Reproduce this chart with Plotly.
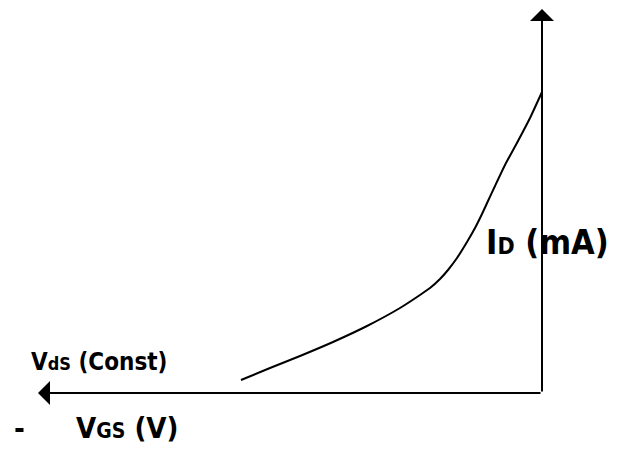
import plotly.graph_objects as go

# Transfer characteristic (V_GS negative, I_D in mA) – arbitrary units
vgs = [-6.02, -5.44, -4.84, -4.18, -3.50, -2.84, -2.44, -2.24, -2.04, -1.88,
       -1.70, -1.50, -1.34, -1.20, -1.08, -0.94, -0.74, -0.48, -0.24, 0.0]
id_ma = [0.26, 0.50, 0.74, 1.02, 1.34, 1.70, 1.96, 2.10, 2.28, 2.46,
         2.70, 3.02, 3.30, 3.58, 3.84, 4.14, 4.56, 5.04, 5.50, 6.02]

# axis extents (arrow tips)
x_axis_end = [-10.08, 0]
y_axis_end = [0, 7.68]

FONT = "DejaVu Sans Condensed, DejaVu Sans, sans-serif"

fig = go.Figure()
fig.add_trace(go.Scatter(x=vgs, y=id_ma, mode="lines",
                         line=dict(color="black", width=2, shape="spline", smoothing=0.5),
                         hoverinfo="skip"))

# axes with arrows
fig.add_annotation(x=x_axis_end[0], y=x_axis_end[1], ax=0, ay=0,
                   xref="x", yref="y", axref="x", ayref="y",
                   showarrow=True, arrowhead=1, arrowsize=2, arrowwidth=2,
                   arrowcolor="black", text="", standoff=0)
fig.add_annotation(x=y_axis_end[0], y=y_axis_end[1], ax=0, ay=0,
                   xref="x", yref="y", axref="x", ayref="y",
                   showarrow=True, arrowhead=1, arrowsize=2, arrowwidth=2,
                   arrowcolor="black", text="", standoff=0)

labels = [
    dict(text="<b>I<span style='font-size:23px'>D</span> (mA)</b>", x=-1.16, y=3.03, size=34),
    dict(text="<b>V<span style='font-size:18px'>dS</span> (Const)</b>", x=-10.26, y=0.62, size=24),
    dict(text="<b>V<span style='font-size:21px'>GS</span> (V)</b>", x=-9.36, y=-0.69, size=29),
    dict(text="<b>-</b>", x=-10.6, y=-0.7, size=29),
]
for lb in labels:
    fig.add_annotation(x=lb["x"], y=lb["y"], xref="x", yref="y", text=lb["text"],
                       showarrow=False, xanchor="left", yanchor="middle",
                       font=dict(family=FONT, size=lb["size"], color="black"))

fig.update_layout(
    width=621, height=449,
    margin=dict(l=0, r=0, t=0, b=0),
    paper_bgcolor="white", plot_bgcolor="white",
    showlegend=False,
    xaxis=dict(range=[-10.84, 1.58], visible=False, fixedrange=True),
    yaxis=dict(range=[-1.12, 7.86], visible=False, fixedrange=True),
)
fig.write_html("out.html", config={"displayModeBar": False},
               post_script="document.body.style.margin='0';")
